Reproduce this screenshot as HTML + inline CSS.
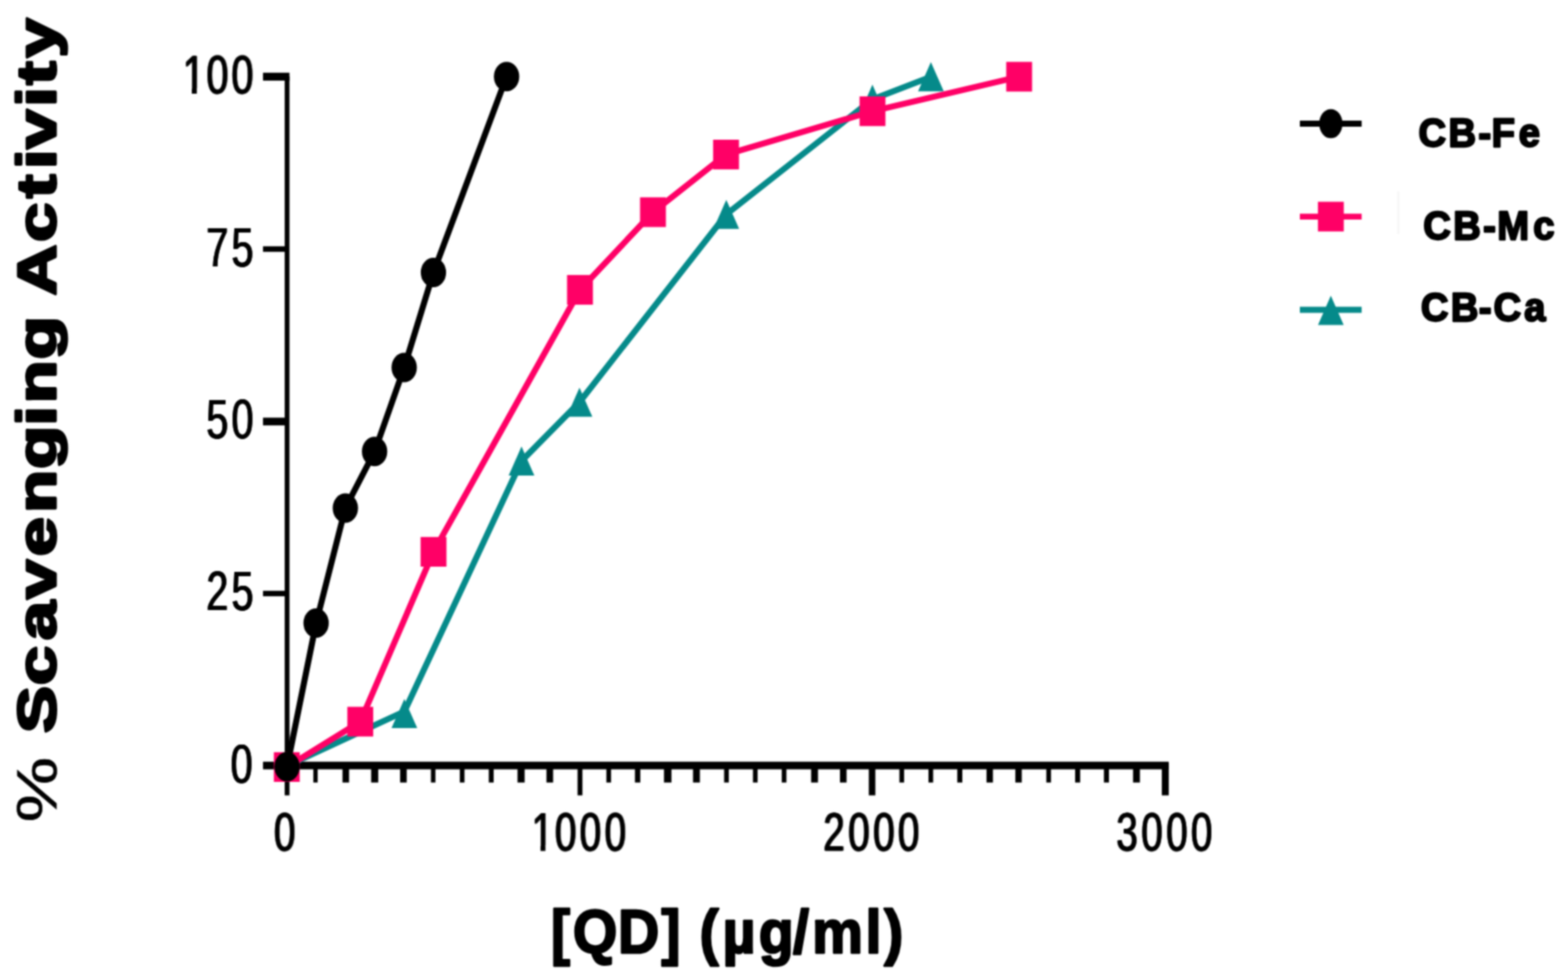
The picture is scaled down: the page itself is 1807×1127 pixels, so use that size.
<!DOCTYPE html>
<html lang="en">
<head>
<meta charset="utf-8">
<style>
html,body{margin:0;padding:0;background:#fff;}
body{width:1807px;height:1127px;overflow:hidden;}
svg{display:block;}
text{font-family:"Liberation Sans",sans-serif;fill:#000;}
.tk{font-weight:400;}
.tkg{filter:drop-shadow(0.65px 0 0 #000) drop-shadow(-0.65px 0 0 #000);}
.bd{font-weight:700;stroke:#000;stroke-linejoin:round;}
.yt{font-weight:700;stroke:#000;stroke-width:3.0px;stroke-linejoin:round;}
.ypct{font-weight:400;stroke:#000;stroke-width:0.6px;}
</style>
</head>
<body>
<svg width="1807" height="1127" viewBox="0 0 1807 1127">
<defs>
<filter id="soft" x="0" y="0" width="1807" height="1127" filterUnits="userSpaceOnUse" color-interpolation-filters="sRGB">
<feConvolveMatrix order="5" kernelMatrix="0.00212 0.01118 0.01946 0.01118 0.00212 0.01118 0.05892 0.10253 0.05892 0.01118 0.01946 0.10253 0.17843 0.10253 0.01946 0.01118 0.05892 0.10253 0.05892 0.01118 0.00212 0.01118 0.01946 0.01118 0.00212" edgeMode="duplicate" preserveAlpha="true"/>
</filter>
</defs>
<g filter="url(#soft)">
<rect width="1807" height="1127" fill="#fff"/>
<g id="axes">
<rect x="328.10" y="88.00" width="5.50" height="828.55" fill="#000"/>
<rect x="303.10" y="877.75" width="1043.80" height="8.80" fill="#000"/>
<rect x="303.10" y="83.80" width="30.50" height="9.10" fill="#000"/>
<rect x="303.10" y="283.80" width="26.90" height="6.40" fill="#000"/>
<rect x="303.10" y="481.30" width="26.90" height="8.90" fill="#000"/>
<rect x="303.10" y="680.80" width="26.90" height="6.30" fill="#000"/>
<rect x="665.60" y="880.00" width="5.60" height="36.55" fill="#000"/>
<rect x="1001.25" y="880.00" width="7.50" height="36.55" fill="#000"/>
<rect x="1338.90" y="880.00" width="8.00" height="36.55" fill="#000"/>
<rect x="361.10" y="880.00" width="5.00" height="21.75" fill="#000"/>
<rect x="394.70" y="880.00" width="7.60" height="21.75" fill="#000"/>
<rect x="427.70" y="880.00" width="8.20" height="21.75" fill="#000"/>
<rect x="461.10" y="880.00" width="7.60" height="21.75" fill="#000"/>
<rect x="496.60" y="880.00" width="5.20" height="21.75" fill="#000"/>
<rect x="529.90" y="880.00" width="5.40" height="21.75" fill="#000"/>
<rect x="563.30" y="880.00" width="5.60" height="21.75" fill="#000"/>
<rect x="596.40" y="880.00" width="8.20" height="21.75" fill="#000"/>
<rect x="629.75" y="880.00" width="7.70" height="21.75" fill="#000"/>
<rect x="698.80" y="880.00" width="5.40" height="21.75" fill="#000"/>
<rect x="731.70" y="880.00" width="6.20" height="21.75" fill="#000"/>
<rect x="765.20" y="880.00" width="8.60" height="21.75" fill="#000"/>
<rect x="798.65" y="880.00" width="7.90" height="21.75" fill="#000"/>
<rect x="834.50" y="880.00" width="5.40" height="21.75" fill="#000"/>
<rect x="867.70" y="880.00" width="5.40" height="21.75" fill="#000"/>
<rect x="900.90" y="880.00" width="5.40" height="21.75" fill="#000"/>
<rect x="934.75" y="880.00" width="7.90" height="21.75" fill="#000"/>
<rect x="968.00" y="880.00" width="7.60" height="21.75" fill="#000"/>
<rect x="1036.50" y="880.00" width="5.40" height="21.75" fill="#000"/>
<rect x="1070.00" y="880.00" width="5.40" height="21.75" fill="#000"/>
<rect x="1103.20" y="880.00" width="5.80" height="21.75" fill="#000"/>
<rect x="1136.90" y="880.00" width="7.40" height="21.75" fill="#000"/>
<rect x="1170.10" y="880.00" width="7.40" height="21.75" fill="#000"/>
<rect x="1205.80" y="880.00" width="5.40" height="21.75" fill="#000"/>
<rect x="1239.00" y="880.00" width="5.80" height="21.75" fill="#000"/>
<rect x="1272.20" y="880.00" width="5.80" height="21.75" fill="#000"/>
<rect x="1305.75" y="880.00" width="7.90" height="21.75" fill="#000"/>
</g>
<g id="ticklabels">
<g class="tkg">
<text transform="translate(211.16 107.60) rotate(0.03) scale(0.727923322683706 1)" x="0.00 37.47 77.03" y="0" font-size="62.6" class="tk">100</text>
<text transform="translate(238.33 306.80) rotate(0.03) scale(0.712 1)" x="0.00 40.45" y="0" font-size="64.0" class="tk">75</text>
<text transform="translate(238.33 504.80) rotate(0.03) scale(0.712 1)" x="0.00 40.45" y="0" font-size="64.0" class="tk">50</text>
<text transform="translate(238.33 703.40) rotate(0.03) scale(0.712 1)" x="0.00 40.45" y="0" font-size="64.0" class="tk">25</text>
<text transform="translate(266.33 902.10) rotate(0.03) scale(0.7233015873015872 1)" x="0.00" y="0" font-size="63.0" class="tk">0</text>
<text transform="translate(316.24 980.20) rotate(0.03) scale(0.715 1)" x="0.00" y="0" font-size="62.2" class="tk">0</text>
<text transform="translate(613.28 980.20) rotate(0.03) scale(0.715 1)" x="0.00 37.28 77.42 117.56" y="0" font-size="62.2" class="tk">1000</text>
<text transform="translate(949.24 980.20) rotate(0.03) scale(0.715 1)" x="0.00 40.14 80.28 120.42" y="0" font-size="62.2" class="tk">2000</text>
<text transform="translate(1286.94 980.20) rotate(0.03) scale(0.715 1)" x="0.00 40.14 80.28 120.42" y="0" font-size="62.2" class="tk">3000</text>
</g>
<rect x="211.62" y="101.70" width="9.42" height="7.89" fill="#fff"/>
<rect x="226.80" y="101.70" width="10.41" height="7.89" fill="#fff"/>
<rect x="613.66" y="974.34" width="9.23" height="7.87" fill="#fff"/>
<rect x="628.56" y="974.34" width="10.23" height="7.87" fill="#fff"/>
</g>
<g id="series">
<path d="M330.60 882.50 L466.00 819.90 L601.00 531.30 L667.80 463.50 L837.00 247.00 L1005.40 114.40 L1072.80 88.40" fill="none" stroke="#058a8a" stroke-width="7.0" stroke-linejoin="round"/>
<path d="M330.60 866.90L345.40 900.50L315.80 900.50Z" fill="#058a8a"/>
<path d="M466.00 805.40L480.80 839.00L451.20 839.00Z" fill="#058a8a"/>
<path d="M601.00 514.50L615.80 548.10L586.20 548.10Z" fill="#058a8a"/>
<path d="M667.80 446.70L682.60 480.30L653.00 480.30Z" fill="#058a8a"/>
<path d="M837.00 230.20L851.80 263.80L822.20 263.80Z" fill="#058a8a"/>
<path d="M1005.40 97.60L1020.20 131.20L990.60 131.20Z" fill="#058a8a"/>
<path d="M1072.80 71.60L1087.60 105.20L1058.00 105.20Z" fill="#058a8a"/>
<path d="M330.50 883.90 L415.20 831.60 L499.60 635.90 L668.40 334.00 L752.50 244.50 L836.70 178.10 L1005.50 128.20 L1174.50 88.40" fill="none" stroke="#ff0066" stroke-width="7.0" stroke-linejoin="round"/>
<rect x="315.60" y="866.80" width="29.80" height="34.20" fill="#ff0066"/>
<rect x="400.30" y="814.50" width="29.80" height="34.20" fill="#ff0066"/>
<rect x="484.70" y="618.80" width="29.80" height="34.20" fill="#ff0066"/>
<rect x="653.50" y="316.90" width="29.80" height="34.20" fill="#ff0066"/>
<rect x="737.60" y="227.40" width="29.80" height="34.20" fill="#ff0066"/>
<rect x="821.80" y="161.00" width="29.80" height="34.20" fill="#ff0066"/>
<rect x="990.60" y="111.10" width="29.80" height="34.20" fill="#ff0066"/>
<rect x="1159.60" y="71.30" width="29.80" height="34.20" fill="#ff0066"/>
<path d="M330.80 883.50 L364.30 718.00 L398.00 585.40 L431.70 520.30 L465.80 423.60 L499.50 314.00 L583.80 88.30" fill="none" stroke="#000" stroke-width="7.0" stroke-linejoin="round"/>
<ellipse cx="330.80" cy="883.50" rx="14.6" ry="17.0" fill="#000"/>
<ellipse cx="364.30" cy="718.00" rx="14.6" ry="17.0" fill="#000"/>
<ellipse cx="398.00" cy="585.40" rx="14.6" ry="17.0" fill="#000"/>
<ellipse cx="431.70" cy="520.30" rx="14.6" ry="17.0" fill="#000"/>
<ellipse cx="465.80" cy="423.60" rx="14.6" ry="17.0" fill="#000"/>
<ellipse cx="499.50" cy="314.00" rx="14.6" ry="17.0" fill="#000"/>
<ellipse cx="583.80" cy="88.30" rx="14.6" ry="17.0" fill="#000"/>
</g>
<g id="legend">
<rect x="1610.30" y="220.50" width="2.40" height="49.00" fill="#f6f6f6"/>
<path d="M1498 142.50H1569.2" stroke="#000" stroke-width="6.8" fill="none"/>
<ellipse cx="1533.70" cy="142.50" rx="13.4" ry="16.8" fill="#000"/>
<path d="M1498 249.60H1569.2" stroke="#ff0066" stroke-width="6.8" fill="none"/>
<rect x="1518.80" y="232.50" width="29.80" height="34.20" fill="#ff0066"/>
<path d="M1498 357.00H1569.2" stroke="#058a8a" stroke-width="6.8" fill="none"/>
<path d="M1533.70 340.80L1548.50 374.40L1518.90 374.40Z" fill="#058a8a"/>
</g>
<text transform="scale(0.952 1)" x="1717.31 1753.48 1789.63 1805.62 1838.45" y="169.40" font-size="46.2" stroke-width="2.4" class="bd">CB-Fe</text>
<text transform="scale(0.952 1)" x="1722.98 1759.21 1795.36 1812.57 1856.05" y="276.00" font-size="46.2" stroke-width="2.4" class="bd">CB-Mc</text>
<text transform="scale(0.952 1)" x="1720.04 1756.21 1790.21 1808.06 1845.09" y="369.80" font-size="46.2" stroke-width="2.4" class="bd">CB-Ca</text>
<text transform="scale(0.924 1)" x="687.13 714.52 770.93 824.95 848.82 872.68 901.30 946.33 989.23 1013.06 1079.50 1102.92" y="1097.80" font-size="71.1" stroke-width="2.6" class="bd">[QD] (µg/ml)</text>
<g transform="translate(64.2 0) rotate(-90)">
<text transform="scale(1.31 1)" y="0"><tspan x="-723.55 -664.22" y="0.9" font-size="65" class="ypct">% </tspan><tspan x="-644.89 -602.63 -563.25 -526.98 -489.23 -451.08 -412.33 -374.44 -354.78 -316.11 -277.99 -259.87 -212.71 -174.31 -148.75 -130.84 -93.94 -74.54 -50.62" y="0" font-size="62.0" class="yt">Scavenging Activity</tspan></text>
</g>
</g>
</svg>
</body>
</html>
